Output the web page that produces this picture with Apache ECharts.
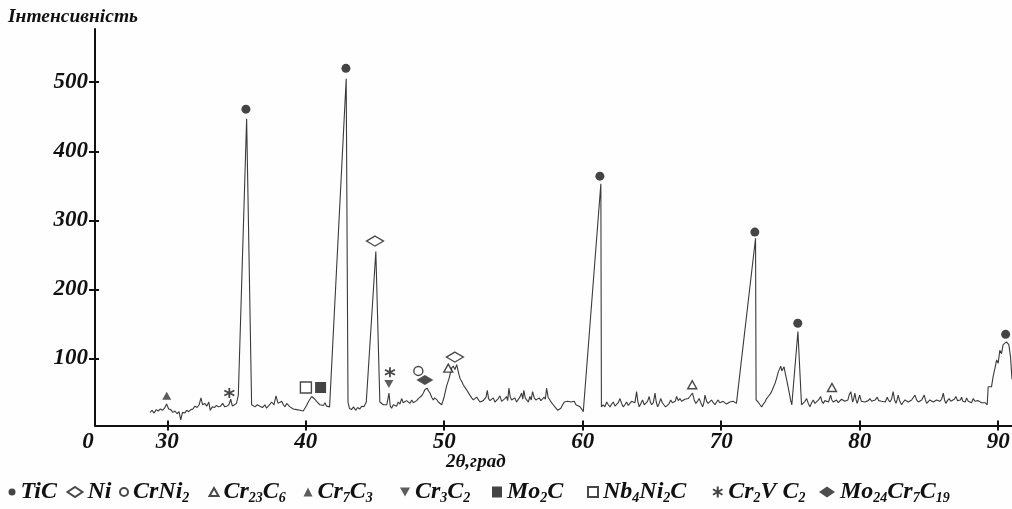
<!DOCTYPE html>
<html><head><meta charset="utf-8">
<script src="https://cdn.jsdelivr.net/npm/echarts@6/dist/echarts.min.js"></script>
<style>html,body{margin:0;padding:0;background:#fefefe}#c{width:1012px;height:509px}</style>
</head><body><div id="c"></div><script>
// ---------- DATA ----------
const angles = [
 28.75,28.9,29.05,29.2,29.35,29.5,29.65,29.8,29.95,30.1,30.25,30.4,30.55,30.7,30.85,30.97,31.1,31.25,31.4,31.55,31.7,31.85,32.0,32.15,32.3,32.43,32.55,32.7,32.85,33.0,33.1,33.25,33.4,33.55,33.7,33.85,34.0,34.15,34.3,34.45,34.58,34.7,34.85,35.0,35.13,35.73,36.09,
 36.33,36.5,36.69,36.87,37.05,37.17,37.29,37.42,37.54,37.7,37.85,38.0,38.13,38.26,38.38,38.5,38.62,38.74,38.86,38.98,39.1,39.22,39.34,39.46,39.58,39.7,39.82,39.94,40.06,40.18,40.3,40.43,40.55,40.66,40.78,40.9,41.02,41.15,41.27,41.39,41.5,41.62,41.72,42.92,43.05,
 43.15,43.3,43.45,43.6,43.75,43.9,44.05,44.2,44.37,45.06,45.35,
 45.48,45.6,45.72,45.85,46.01,46.1,46.2,46.32,46.44,46.56,46.68,46.8,46.92,47.04,47.16,47.28,47.4,47.52,47.65,47.77,47.89,48.01,48.13,48.25,48.37,48.49,48.61,48.77,48.87,48.97,49.09,49.21,49.3,49.4,49.48,49.57,49.69,49.81,49.9,50.0,50.17,50.36,50.53,50.65,50.77,50.9,51.06,51.16,51.26,51.37,51.49,51.6,51.73,51.85,51.98,52.1,52.22,52.34,52.46,52.58,52.7,52.82,52.94,53.02,53.11,53.2,53.3,53.42,53.54,53.66,53.78,53.9,54.02,54.14,54.26,54.38,54.5,54.58,54.67,54.77,54.87,54.98,55.1,55.22,55.34,55.46,55.59,55.67,55.75,55.85,55.95,56.07,56.19,56.28,56.38,56.5,56.62,56.74,56.86,56.98,57.1,57.22,57.3,57.39,57.5,57.63,57.75,57.87,57.99,58.11,58.2,58.3,58.42,58.55,58.67,58.79,58.91,59.03,59.15,59.27,59.39,59.51,59.65,59.8,59.92,60.04,61.31,61.35,
 61.48,61.6,61.73,61.85,61.97,62.09,62.21,62.33,62.45,62.57,62.69,62.81,62.93,63.05,63.17,63.29,63.41,63.53,63.65,63.77,63.89,63.98,64.08,64.2,64.32,64.44,64.56,64.68,64.8,64.88,64.98,65.1,65.22,65.31,65.41,65.52,65.63,65.75,65.86,65.98,66.1,66.22,66.35,66.47,66.59,66.68,66.78,66.9,67.02,67.14,67.26,67.38,67.5,67.62,67.74,67.84,67.93,68.05,68.17,68.29,68.41,68.53,68.66,68.75,68.83,68.95,69.06,69.18,69.31,69.43,69.55,69.67,69.78,69.9,70.02,70.14,70.26,70.38,70.5,70.62,70.74,70.86,70.98,71.1,72.48,72.52,72.67,72.8,72.92,73.04,73.16,73.28,73.4,73.52,73.64,73.76,73.89,74.01,74.13,74.22,74.3,74.38,74.45,74.54,74.63,74.73,74.82,74.92,75.01,75.1,75.54,75.8,
 75.92,76.05,76.17,76.29,76.41,76.53,76.65,76.77,76.89,77.03,77.18,77.27,77.37,77.49,77.61,77.75,77.9,77.99,78.09,78.21,78.33,78.45,78.57,78.69,78.81,78.93,79.05,79.15,79.24,79.36,79.49,79.57,79.65,79.74,79.82,79.91,80.0,80.12,80.25,80.37,80.5,80.62,80.74,80.86,80.98,81.12,81.27,81.37,81.46,81.58,81.7,81.85,81.99,82.08,82.18,82.3,82.42,82.52,82.62,82.7,82.78,82.9,83.03,83.15,83.27,83.39,83.51,83.63,83.75,83.87,83.99,84.11,84.23,84.35,84.48,84.57,84.66,84.75,84.84,84.95,85.07,85.19,85.31,85.43,85.56,85.67,85.79,85.92,86.04,86.13,86.22,86.34,86.46,86.58,86.71,86.83,86.95,87.06,87.18,87.27,87.36,87.45,87.53,87.62,87.72,87.84,87.96,88.08,88.2,88.32,88.44,88.56,88.68,88.8,88.92,89.06,89.21,89.28,89.52,89.64,89.76,89.89,90.0,90.12,90.24,90.36,90.48,90.6,90.69,90.77,90.89,91.0
];
const intensity = [
 22,25,21,26,24,27,25,28,34,27,26,22,24,20,23,11,22,21,25,23,26,27,31,29,33,43,33,35,31,37,25,30,29,32,30,31,35,30,31,33,41,31,33,35,47,447,33,
 30,33,31,29,33,28,30,34,37,33,46,35,34,38,33,30,35,33,30,28,27,25,26,24,25,26,24,28,32,37,41,45,43,41,38,37,33,35,32,36,31,33,30,505,37,
 28,26,30,25,29,27,31,30,37,255,37,
 37,33,35,33,50,31,28,33,35,31,37,34,42,36,35,39,38,35,40,36,37,39,42,40,46,50,55,57,53,50,44,40,43,45,40,37,39,33,38,45,60,72,86,89,84,91,77,70,67,62,60,55,53,47,43,40,39,44,42,37,35,39,40,44,54,42,39,41,43,37,39,42,46,38,40,42,45,39,57,44,40,38,43,37,39,44,50,41,54,43,40,37,45,40,52,43,40,38,43,39,40,44,41,57,44,40,36,33,30,28,25,23,28,33,37,35,38,40,37,35,38,33,34,30,27,23,353,30,
 33,30,37,33,30,34,37,31,33,36,42,35,30,33,37,32,35,38,40,36,52,38,30,35,40,33,35,38,45,37,33,36,50,37,30,35,42,36,33,30,28,34,40,36,35,38,45,39,42,38,37,41,40,42,45,47,50,40,35,38,42,36,30,36,47,38,35,37,40,36,33,37,40,36,35,38,37,34,35,37,36,38,37,35,274,40,37,33,30,34,37,42,45,48,52,58,64,72,81,85,89,82,83,88,78,69,60,50,40,33,139,33,
 33,38,42,35,30,36,40,35,37,40,45,38,35,39,40,37,47,40,37,39,40,36,38,41,42,38,37,40,47,52,37,42,50,40,35,41,47,38,40,37,35,39,42,38,37,40,44,39,37,38,40,37,44,40,37,41,52,40,35,40,47,38,33,37,40,38,37,39,40,38,47,40,37,39,40,38,47,40,35,37,40,39,37,39,40,38,38,41,50,40,35,39,42,38,40,41,45,39,37,40,44,38,40,37,43,38,40,36,42,38,37,39,40,36,35,36,33,59,59,74,85,98,93,112,107,120,118,124,122,120,103,70
];
// phase markers (2θ, intensity)
const phaseNames = ['TiC','Ni','CrNi2','Cr23C6','Cr7C3','Cr3C2','Mo2C','Nb4Ni2C','Cr2VC2','Mo24Cr7C19'];
const tiC_x = [35.68, 42.9, 61.24, 72.43, 75.53, 90.54];
const tiC_y = [461, 520, 364, 283, 151, 135];
const ni_x = [45.0, 50.77];          const ni_y = [270, 102];
const crNi2_x = [48.13];             const crNi2_y = [82];
const cr23c6_x = [50.29, 67.91, 78.0]; const cr23c6_y = [86, 62, 58];
const cr7c3_x = [29.96];             const cr7c3_y = [46];
const cr3c2_x = [46.0];              const cr3c2_y = [63];
const mo2c_x = [41.07];              const mo2c_y = [58];
const nb4ni2c_x = [40.01];           const nb4ni2c_y = [58];
const cr2vc2_x = [34.48, 46.08];     const cr2vc2_y = [50, 80];
const mo24_x = [48.6];               const mo24_y = [69];
const yTickValues = [100, 200, 300, 400, 500];
const xTickValues = [30, 40, 50, 60, 70, 80, 90];
const xMin = 24.78, xMax = 91.0, yMin = 3, yMax = 577;

// ---------- CHART ----------
const F = "'Liberation Serif','Times New Roman',serif";
const zip = (xs, ys) => xs.map((x, i) => [x, ys[i]]);
const pts = {
  TiC: zip(tiC_x, tiC_y), Ni: zip(ni_x, ni_y), CrNi2: zip(crNi2_x, crNi2_y),
  Cr23C6: zip(cr23c6_x, cr23c6_y), Cr7C3: zip(cr7c3_x, cr7c3_y), Cr3C2: zip(cr3c2_x, cr3c2_y),
  Mo2C: zip(mo2c_x, mo2c_y), Nb4Ni2C: zip(nb4ni2c_x, nb4ni2c_y), Cr2VC2: zip(cr2vc2_x, cr2vc2_y),
  Mo24Cr7C19: zip(mo24_x, mo24_y)
};
const labels = {
  TiC: '{t|TiC}', Ni: '{t|Ni}', CrNi2: '{t|CrNi}{s|2}', Cr23C6: '{t|Cr}{s|23}{t|C}{s|6}',
  Cr7C3: '{t|Cr}{s|7}{t|C}{s|3}', Cr3C2: '{t|Cr}{s|3}{t|C}{s|2}', Mo2C: '{t|Mo}{s|2}{t|C}',
  Nb4Ni2C: '{t|Nb}{s|4}{t|Ni}{s|2}{t|C}', Cr2VC2: '{t|Cr}{s|2}{t|V C}{s|2}',
  Mo24Cr7C19: '{t|Mo}{s|24}{t|Cr}{s|7}{t|C}{s|19}'
};
const dark = '#151515';
const hollow = { color: '#ffffff', borderColor: '#1a1a1a', borderWidth: 1.4 };
const styles = {
  TiC:        { symbol: 'circle', size: 9, legendSize: [7, 7], cx: 12, item: { color: dark } },
  Ni:         { symbol: 'diamond', size: [17, 10], legendSize: [15, 10], cx: 74, item: hollow },
  CrNi2:      { symbol: 'circle', size: 9, legendSize: [8, 8], cx: 123, item: hollow },
  Cr23C6:     { symbol: 'triangle', size: [9, 8], legendSize: [9, 8], cx: 213, item: hollow },
  Cr7C3:      { symbol: 'triangle', size: [9, 8], legendSize: [9, 9], cx: 308, item: { color: '#333' } },
  Cr3C2:      { symbol: 'path://M0,0L10,0L5,9Z', size: [9, 8], legendSize: [10, 10], cx: 405, item: { color: '#333' } },
  Mo2C:       { symbol: 'rect', size: 11, legendSize: [10, 11], cx: 497, item: { color: dark } },
  Nb4Ni2C:    { symbol: 'rect', size: 11, legendSize: [10, 10], cx: 592, item: hollow },
  Cr2VC2:     { symbol: 'path://M5,0L5,10M0.7,2.5L9.3,7.5M0.7,7.5L9.3,2.5', size: 10, legendSize: [11, 11], cx: 716,
                item: { color: 'none', borderColor: dark, borderWidth: 1.8 } },
  Mo24Cr7C19: { symbol: 'diamond', size: [17, 10], legendSize: [16, 11], cx: 827, item: { color: '#222' } }
};
const txt = { fontFamily: F, fontStyle: 'italic', fontWeight: 'bold', color: '#111' };
const rich = {
  t: Object.assign({ fontSize: 24, lineHeight: 26 }, txt),
  s: Object.assign({ fontSize: 14, lineHeight: 7, verticalAlign: 'bottom' }, txt)
};

const series = [{
  type: 'line', name: 'trace', data: zip(angles, intensity), symbol: 'none', silent: true,
  lineStyle: { color: '#3a3a3a', width: 1.1 }, z: 2
}].concat(phaseNames.map(n => ({
  type: 'scatter', name: n, data: pts[n], symbol: styles[n].symbol, symbolSize: styles[n].size,
  itemStyle: styles[n].item, z: 5, silent: true
})));

const legends = phaseNames.map(n => ({
  data: [n], left: styles[n].cx - styles[n].legendSize[0] / 2, top: 480, selectedMode: false,
  itemWidth: styles[n].legendSize[0], itemHeight: styles[n].legendSize[1], itemGap: 0, padding: 0,
  formatter: name => labels[name], textStyle: Object.assign({ rich: rich }, txt)
}));

const option = {
  animation: false,
  backgroundColor: '#fefefe',
  title: [
    { text: 'Інтенсивність', left: 8, top: 7, padding: 0,
      textStyle: Object.assign({ fontSize: 19.5 }, txt) },
    { text: '2θ,град', left: 446, top: 453, padding: 0,
      textStyle: Object.assign({ fontSize: 19 }, txt) }
  ],
  legend: legends,
  grid: { left: 95, right: 0, top: 29, bottom: 83.5, containLabel: false, outerBoundsMode: 'none' },
  xAxis: [{
    type: 'value', min: xMin, max: xMax,
    axisLine: { show: true, onZero: false, lineStyle: { color: '#111', width: 2 } },
    axisTick: { show: true, length: 5, customValues: xTickValues, lineStyle: { color: '#111', width: 2 } },
    axisLabel: {
      customValues: [xMin].concat(xTickValues), margin: 5, fontSize: 23, ...txt,
      formatter: v => v < 25 ? '{z|0}' : String(v),
      rich: { z: Object.assign({ fontSize: 23, padding: [0, 14, 0, 0] }, txt) }
    },
    splitLine: { show: false }
  }, {
    type: 'value', min: xMin, max: xMax, position: 'bottom', offset: 0,
    axisLine: { show: false }, axisLabel: { show: false }, splitLine: { show: false },
    axisTick: { show: true, inside: true, length: 5, customValues: xTickValues, lineStyle: { color: '#111', width: 2 } }
  }],
  yAxis: [{
    type: 'value', min: yMin, max: yMax,
    axisLine: { show: true, onZero: false, lineStyle: { color: '#111', width: 2 } },
    axisTick: { show: true, length: 6, customValues: yTickValues, lineStyle: { color: '#111', width: 2 } },
    axisLabel: { customValues: yTickValues, margin: 7, fontSize: 23, ...txt },
    splitLine: { show: false }
  }, {
    type: 'value', min: yMin, max: yMax, position: 'left', offset: 0,
    axisLine: { show: false }, axisLabel: { show: false }, splitLine: { show: false },
    axisTick: { show: true, inside: true, length: 4, customValues: yTickValues, lineStyle: { color: '#111', width: 2 } }
  }],
  series: series
};
const chart = echarts.init(document.getElementById('c'), null, { renderer: 'canvas' });
chart.setOption(option);
</script></body></html>
